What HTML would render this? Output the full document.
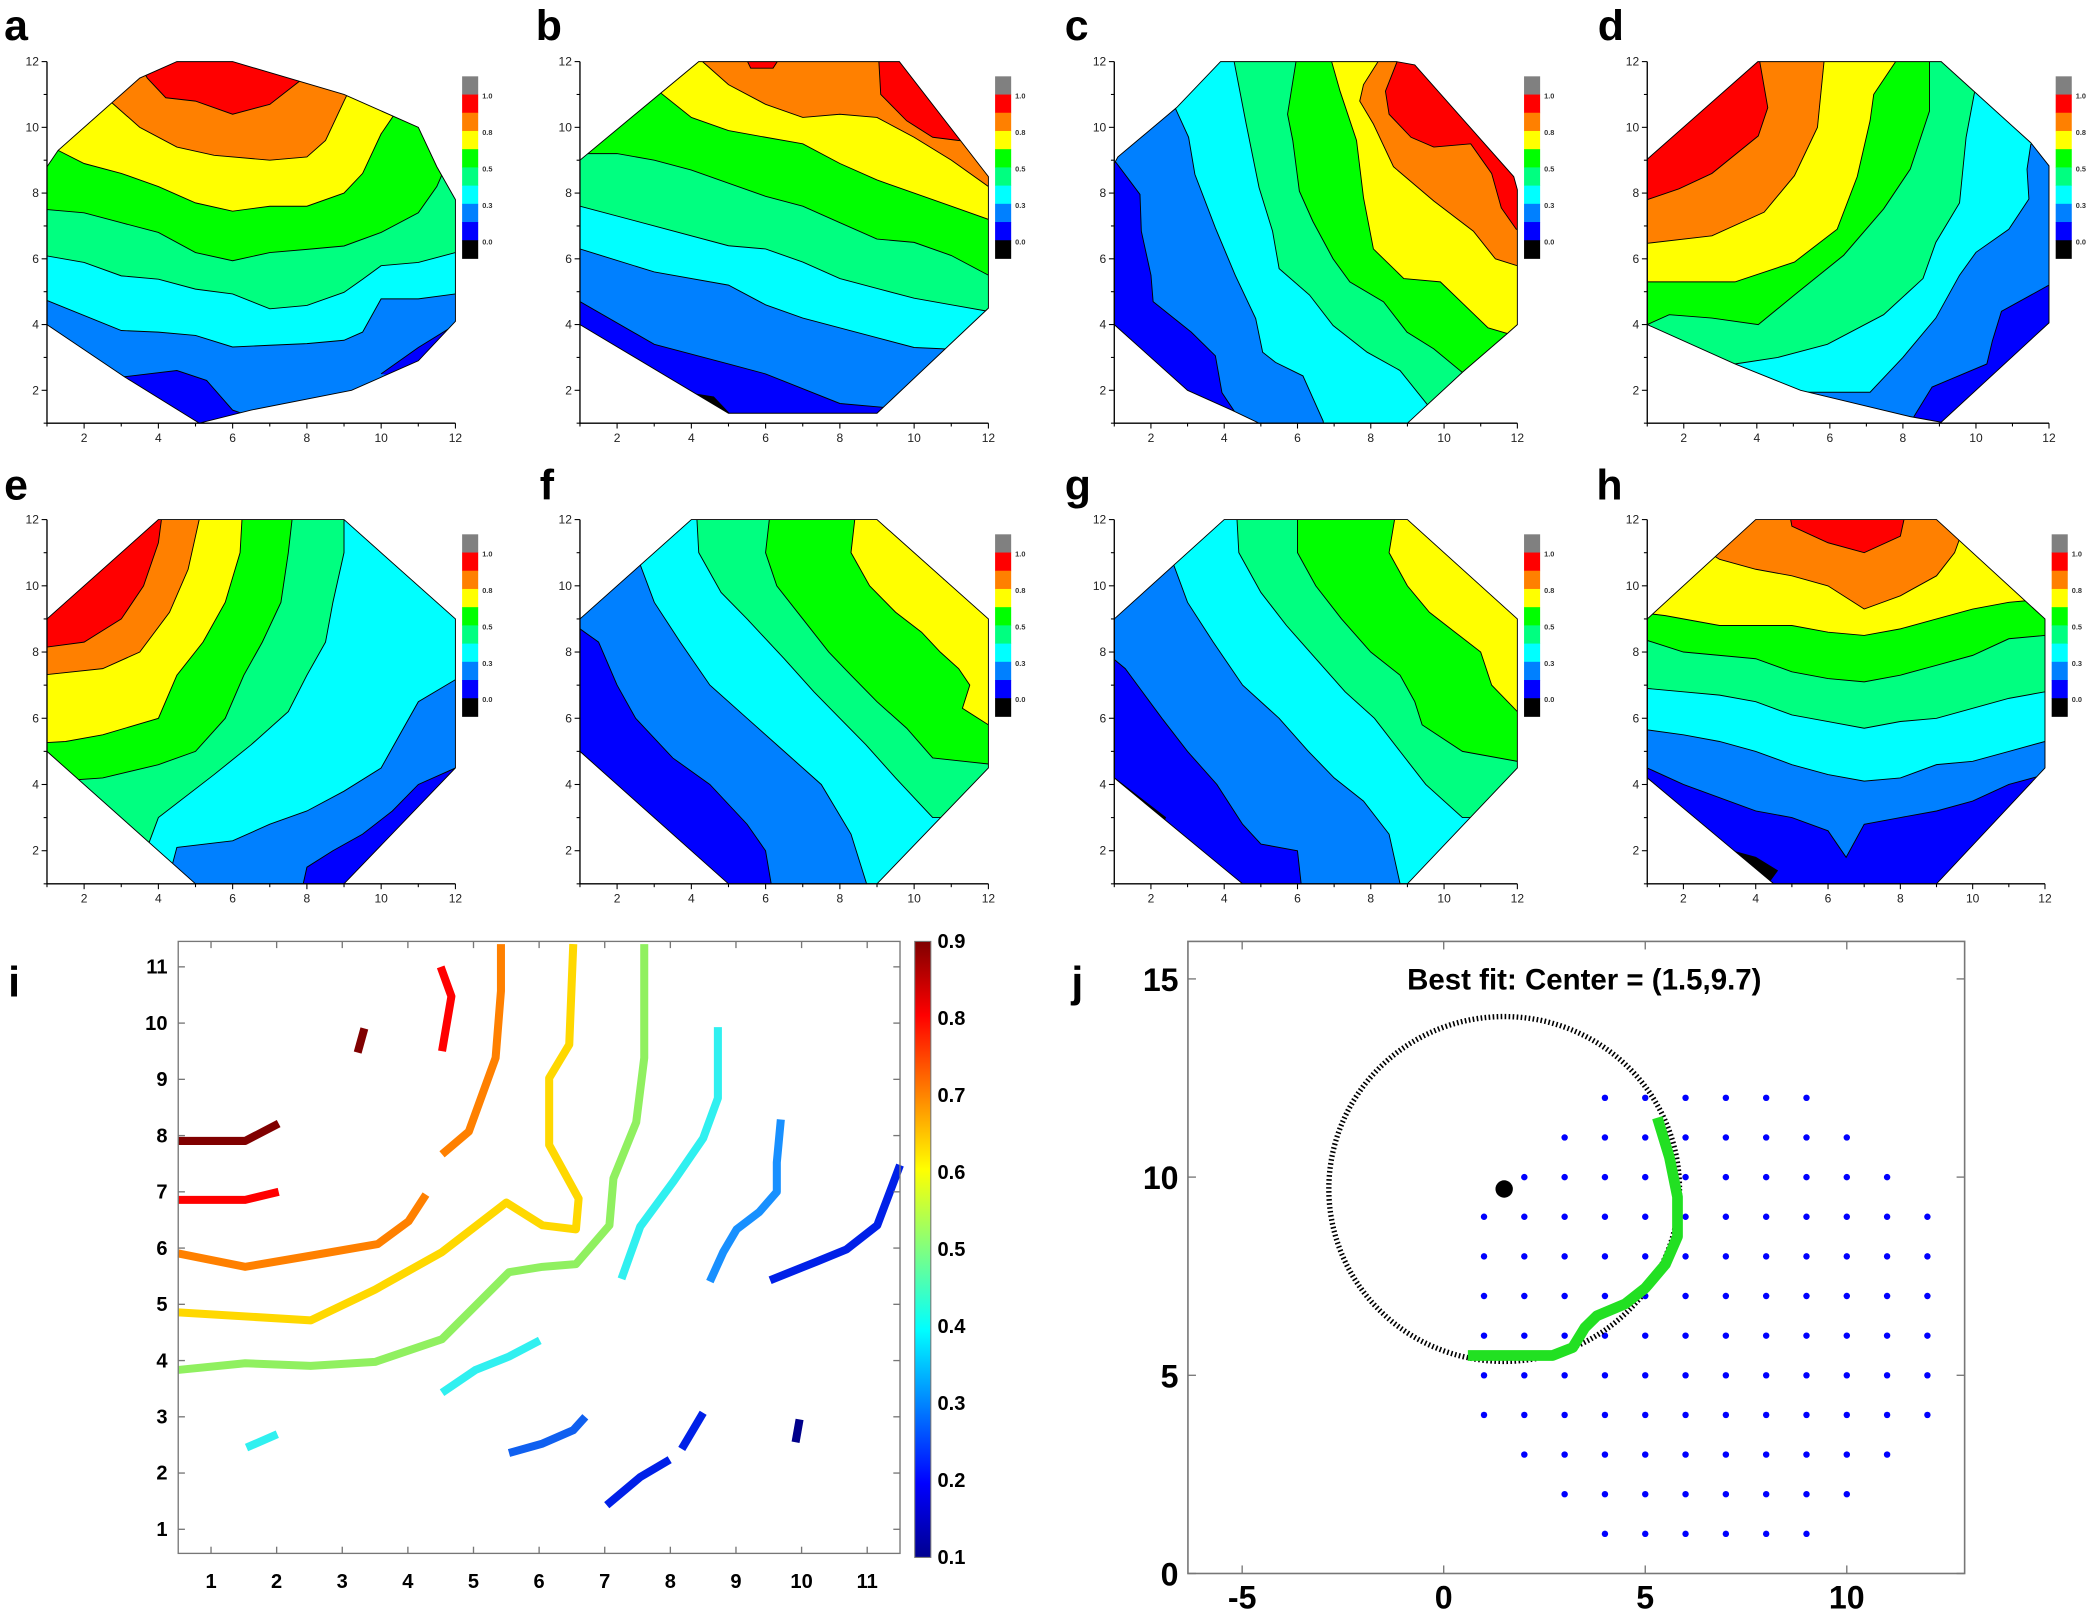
<!DOCTYPE html>
<html><head><meta charset="utf-8"><style>
html,body{margin:0;padding:0;background:#fff;}
svg{display:block;font-family:"Liberation Sans",sans-serif;}
</style></head><body>
<svg id="s" width="2100" height="1615" viewBox="0 0 1568 1206" xmlns="http://www.w3.org/2000/svg">
<rect width="1568" height="1206" fill="#fff"/>
</svg>
<script>
const S=document.getElementById('s');
let out='';
const C=['#000000','#0000ff','#0080ff','#00ffff','#00ff80','#00ff00','#ffff00','#ff8000','#ff0000','#808080'];
function poly(pts,f){return pts.map(p=>f(p[0],p[1]).map(v=>v.toFixed(1)).join(',')).join(' ');}
const G8=[[1,5],[1,9],[4,12],[9,12],[12,9],[12,4.5],[9,1],[5,1]];
const panels=[
{L:'a',x0:35,x1:340,y0:316,y1:46,lx:3,ly:30,
 oct:[[1,4],[1,8.8],[1.3,9.3],[3.5,11.5],[4.5,12],[6,12],[9,11],[11,10],[11.5,8.8],[12,7.8],[12,4.1],[11,2.9],[9.2,2],[6.5,1.4],[5.1,1],[3.1,2.4]],
 base:2,close:[[14,14],[-1,14]],
 items:[
 [1,[[3,2.4],[4.5,2.6],[5.3,2.3],[6,1.4],[6.5,1.2],[5,0.5],[2.5,2.3]],1],
 [1,[[10,2.5],[11,3.3],[12,4],[12.5,4],[11,2.3]],1],
 [3,[[0,4.73],[1,4.73],[3,3.82],[4,3.77],[5,3.67],[6,3.32],[7,3.37],[8,3.42],[9,3.52],[9.5,3.77],[10,4.78],[11,4.78],[12,4.93],[13,4.93]]],
 [4,[[0,6.09],[1,6.09],[2,5.89],[3,5.48],[4,5.38],[5,5.08],[6,4.93],[7,4.48],[8,4.58],[9,4.98],[9.5,5.38],[10,5.79],[11,5.89],[12,6.19],[13,6.19]]],
 [5,[[0,7.5],[1,7.5],[2,7.4],[3,7.1],[4,6.8],[5,6.19],[6,5.94],[7,6.19],[8,6.29],[9,6.39],[10,6.8],[11,7.4],[11.5,8.2],[12,9.5],[12.5,10]]],
 [6,[[0.5,9.6],[1.3,9.3],[2,8.9],[3,8.6],[4,8.2],[5,7.7],[6,7.45],[7,7.6],[8,7.6],[9,8.0],[9.5,8.6],[10,9.8],[10.3,10.3],[10.6,11]]],
 [7,[[2.2,11.3],[2.7,10.8],[3.5,10.0],[4.5,9.4],[5.5,9.15],[7,9.0],[8,9.1],[8.5,9.6],[9,10.8],[9.3,11.5]]],
 [8,[[3.3,12.3],[3.7,11.5],[4.2,10.9],[5,10.8],[6,10.4],[7,10.7],[7.8,11.4],[8.2,12]]]
 ]},
{L:'b',x0:433,x1:738,y0:316,y1:46,lx:400,ly:30,
 oct:[[1,4],[1,9],[4.2,12],[9.6,12],[12,8.5],[12,4.5],[9,1.3],[5,1.3]],
 base:1,close:[[14,14],[-1,14]],
 items:[
 [0,[[3.5,2.0],[4.6,1.8],[5.1,1.2],[4.5,0.8],[3,1.8]],1],
 [2,[[0,4.7],[1,4.7],[3,3.4],[5,2.8],[6,2.5],[8,1.6],[10,1.4],[13,1.4]]],
 [3,[[0,6.3],[1,6.3],[3,5.6],[5,5.2],[6,4.6],[7,4.2],[9,3.6],[10,3.3],[12,3.2],[13,3.2]]],
 [4,[[0,7.6],[1,7.6],[3,7.0],[5,6.4],[6,6.3],[7,5.9],[8,5.4],[9,5.1],[10,4.8],[11,4.6],[12,4.4],[13,4.4]]],
 [5,[[0,9.2],[2,9.2],[3,9],[4,8.7],[5,8.3],[6,7.9],[7,7.6],[8,7.1],[9,6.6],[10,6.5],[11,6.1],[12,5.5],[13,5.5]]],
 [6,[[2.5,12],[3,11.2],[4,10.3],[5,9.9],[6,9.7],[7,9.5],[8,8.9],[9,8.4],[10,8.0],[11,7.6],[12,7.2],[13,7.2]]],
 [7,[[4,13],[4.3,12],[5,11.3],[6,10.7],[7,10.3],[8,10.4],[9,10.3],[10,9.7],[11,9.0],[12,8.2],[13,8.2]]],
 [8,[[9,13],[9.1,11],[9.8,10.2],[10.5,9.7],[11.2,9.6],[13,9.5]]],
 [8,[[5.3,12.5],[5.6,11.8],[6.2,11.8],[6.6,12.5]],1]
 ]},
{L:'c',x0:832,x1:1133,y0:316,y1:46,lx:795,ly:30,
 oct:[[1,4],[1,8.9],[1.1,9.1],[2.7,10.6],[3.9,12],[8.7,12],[9.2,11.9],[11.9,8.5],[12,8.1],[12,4],[11.7,3.7],[10.5,2.55],[9,1],[4.95,1],[4.2,1.4],[3,2]],
 base:1,close:[[14,-1],[14,14],[-1,14]],
 items:[
 [2,[[0,9.5],[1.05,8.93],[1.7,7.96],[1.74,6.84],[2.0,5.5],[2.06,4.7],[3.1,3.77],[3.76,3.05],[3.94,1.93],[4.27,1.37],[4.5,0]]],
 [3,[[2.2,11.5],[2.66,10.6],[3.03,9.7],[3.2,8.57],[3.76,6.94],[4.3,5.5],[4.86,4.18],[5.05,3.16],[5.4,2.85],[6.15,2.44],[6.7,1.06],[6.8,0]]],
 [4,[[4.25,13],[4.27,12],[4.6,10.1],[4.95,8.17],[5.32,6.84],[5.5,5.7],[6.33,4.9],[6.97,3.97],[7.9,3.16],[8.8,2.6],[9.54,1.57],[10,0]]],
 [5,[[6,13],[5.96,12],[5.73,10.4],[5.87,9.6],[6.05,8.06],[6.42,7.14],[6.97,6.0],[7.43,5.3],[8.35,4.69],[8.99,3.77],[9.72,3.26],[10.5,2.54],[11.5,1]]],
 [6,[[7,13],[6.93,12],[7.16,11.1],[7.61,9.6],[7.8,7.86],[8.07,6.3],[8.9,5.4],[9.9,5.3],[10.55,4.6],[11.2,3.9],[11.74,3.72],[12.5,3]]],
 [7,[[8.3,13],[8.2,12],[7.8,11.3],[7.7,10.8],[8.07,10.1],[8.62,8.8],[9.72,7.76],[10.8,6.84],[11.4,6.0],[11.97,5.8],[13,5.8]]],
 [8,[[8.8,13],[8.72,12],[8.4,11.1],[8.5,10.4],[9.1,9.7],[9.72,9.4],[10.73,9.5],[11.3,8.6],[11.56,7.55],[11.97,6.9],[13,6.9]]]
 ]},
{L:'d',x0:1230,x1:1530,y0:316,y1:46,lx:1193,ly:30,
 oct:[[1,4],[1,9.03],[4.03,12],[9.05,12],[11.5,9.53],[12,8.83],[12,4.05],[9.05,1.03],[8.2,1.2],[5.2,2.0],[3.4,2.8]],
 base:1,close:[[-1,-1],[-1,14],[14,14]],
 items:[
 [2,[[13,5.2],[12,5.2],[10.7,4.4],[10.45,3.5],[10.3,2.8],[8.8,2.1],[8.3,1.2],[8.2,0]]],
 [3,[[12.5,10],[11.5,9.48],[11.4,8.73],[11.45,7.82],[10.9,6.9],[10,6.2],[9.55,5.5],[8.9,4.2],[8,3.0],[7.1,1.94],[5.3,1.94],[5,1.5],[5,0]]],
 [4,[[10.3,12.5],[9.95,11.0],[9.73,9.7],[9.55,7.7],[8.9,6.5],[8.55,5.4],[7.47,4.3],[5.93,3.4],[4.58,3.0],[3.4,2.8],[3,1.5],[3,0]]],
 [5,[[8.73,13],[8.73,12],[8.73,10.5],[8.2,8.73],[7.47,7.52],[6.38,6.11],[5.03,4.9],[4.04,4.0],[2.77,4.2],[1.6,4.3],[1,4.0],[0,3.9]]],
 [6,[[7.8,13],[7.8,12],[7.2,11.0],[7.1,10.2],[6.75,8.5],[6.2,6.9],[5.03,5.9],[3.4,5.3],[1,5.3],[0,5.3]]],
 [7,[[5.84,13],[5.84,12],[5.66,10.0],[5.03,8.53],[4.2,7.42],[2.77,6.7],[1,6.47],[0,6.45]]],
 [8,[[4.1,13],[4.08,12],[4.3,10.6],[4.04,9.74],[2.77,8.6],[1.87,8.13],[1,7.8],[0,7.8]]]
 ]},
{L:'e',x0:35,x1:340,y0:660,y1:388,lx:3,ly:373,
 oct:G8,base:1,close:[[-1,-1],[-1,14],[14,14]],
 items:[
 [2,[[13,4.5],[12,4.5],[11,4],[10.3,3.2],[9.5,2.5],[8.7,2],[8,1.5],[7.7,0]]],
 [3,[[12.5,7.5],[11,6.5],[10.5,5.5],[10,4.5],[9,3.8],[8,3.2],[7,2.8],[6,2.3],[4.5,2.1],[4,0]]],
 [4,[[9,13],[9,11],[8.7,9.5],[8.5,8.3],[8,7.3],[7.5,6.2],[6.5,5.2],[5.5,4.3],[4,3],[3,0]]],
 [5,[[7.7,13],[7.5,11],[7.3,9.5],[6.8,8.3],[6.3,7.3],[5.8,6],[5,5],[4,4.6],[2.5,4.2],[0,4]]],
 [6,[[6.3,13],[6.2,11],[5.8,9.5],[5.2,8.3],[4.5,7.3],[4,6],[2.5,5.5],[1.5,5.3],[0,5.2]]],
 [7,[[5.3,13],[5,11.5],[4.8,10.5],[4.3,9.2],[3.5,8],[2.5,7.5],[0,7.2]]],
 [8,[[4.2,13],[4,11.3],[3.6,10],[3,9],[2,8.3],[0,8]]]
 ]},
{L:'f',x0:433,x1:738,y0:660,y1:388,lx:403,ly:373,
 oct:G8,base:1,close:[[14,-1],[14,14],[-1,14]],
 items:[
 [2,[[0,9.5],[1.5,8.3],[2,7],[2.5,6],[3.5,4.8],[4.5,4],[5.5,2.8],[6,2],[6.3,0]]],
 [3,[[2,13],[2.5,11],[3,9.5],[3.7,8.3],[4.5,7],[5.5,6],[6.5,5],[7.5,4],[8.3,2.5],[9,0]]],
 [4,[[4.1,13],[4.2,11],[4.8,9.8],[5.5,9],[6.5,7.8],[7.3,6.8],[8,6],[8.7,5.2],[9.5,4.2],[10.5,3],[13,3]]],
 [5,[[6.2,13],[6,11],[6.3,10],[7,9],[7.7,8],[8.3,7.3],[9,6.5],[9.8,5.7],[10.5,4.8],[13,4.5]]],
 [6,[[8.5,13],[8.3,11],[8.8,10],[9.5,9.2],[10.2,8.6],[10.7,8],[11.2,7.5],[11.5,7],[11.3,6.3],[12,5.8],[13,5.5]]],
 [7,[[10,13],[10,12.5],[10.3,11],[10.8,10.2],[11.5,9.7],[13,9.3]]],
 [8,[[11,13],[11,11.5],[11.3,10.7],[12,10],[13,9.8]]]
 ]},
{L:'g',x0:832,x1:1133,y0:660,y1:388,lx:795,ly:373,
 oct:[[1,4.2],[1,9],[4,12],[9,12],[12,9],[12,4.5],[9,1],[4.5,1]],base:1,close:[[14,-1],[14,14],[-1,14]],
 items:[
 [0,[[1,4.2],[2.4,3.0],[2.3,2.8],[0.5,4]],1],
 [2,[[0,8.7],[1.3,7.5],[2.3,6],[3,5],[3.8,4],[4.5,2.8],[5,2.2],[6,2],[6.2,0]]],
 [3,[[2.3,13],[2.5,11],[3,9.5],[3.7,8.3],[4.5,7],[5.5,6],[6.3,5],[7,4.2],[7.8,3.5],[8.5,2.5],[9,0]]],
 [4,[[4.3,13],[4.4,11],[5,9.8],[5.7,8.8],[6.5,7.8],[7.3,6.8],[8.1,6],[8.8,5],[9.5,4],[10.5,3],[13,3]]],
 [5,[[6,13],[6,11],[6.5,10],[7.2,9],[8,8],[8.8,7.3],[9.2,6.5],[9.4,5.8],[10.5,5],[13,4.5]]],
 [6,[[8.8,13],[8.5,11],[9,10],[9.6,9.2],[10.3,8.6],[11,8],[11.3,7],[12,6.2],[13,6]]],
 [7,[[10.2,13],[10.2,12.5],[10.5,11],[11,10.2],[11.6,9.6],[13,9.2]]],
 [8,[[11,13],[11,11.3],[11.4,10.6],[12,10],[13,9.8]]]
 ]},
{L:'h',x0:1230,x1:1527,y0:660,y1:388,lx:1192,ly:373,
 oct:[[1,4.2],[1,9],[4,12],[9,12],[12,9],[12,4.5],[9,1],[4.5,1]],base:1,close:[[14,14],[-1,14]],
 items:[
 [0,[[3,2.1],[4,1.8],[4.6,1.4],[4.4,1.1],[2.8,2.0]],1],
 [2,[[0,4.5],[1,4.5],[2,4],[3,3.6],[4,3.2],[5,3],[6,2.6],[6.5,1.8],[7,2.8],[8,3],[9,3.2],[10,3.5],[11,4],[12,4.3],[13,4.3]]],
 [3,[[0,5.8],[2,5.5],[3,5.3],[4,5],[5,4.6],[6,4.3],[7,4.1],[8,4.2],[9,4.6],[10,4.7],[11,5],[12,5.3],[13,5.3]]],
 [4,[[0,7],[2,6.8],[3,6.7],[4,6.5],[5,6.1],[6,5.9],[7,5.7],[8,5.9],[9,6],[10,6.3],[11,6.6],[12,6.8],[13,6.8]]],
 [5,[[0,8.7],[2,8],[3,7.9],[4,7.8],[5,7.4],[6,7.2],[7,7.1],[8,7.3],[9,7.6],[10,7.9],[11,8.4],[12,8.5],[13,8.5]]],
 [6,[[0,9.3],[1.5,9.1],[3,8.8],[4,8.8],[5,8.8],[6,8.6],[7,8.5],[8,8.7],[9,9],[10,9.3],[11,9.5],[12,9.6],[13,9.6]]],
 [7,[[1.5,12],[2,11.5],[3,10.8],[4,10.5],[5,10.3],[6,10],[7,9.3],[8,9.7],[9,10.3],[9.5,11],[10,12.5]]],
 [8,[[4.8,13],[5,11.8],[6,11.3],[7,11],[8,11.5],[8.3,13]]]
 ]}
];
panels.forEach((p,pi)=>{
 const sx=(p.x1-p.x0)/11, sy=(p.y0-p.y1)/11;
 const f=(x,y)=>[p.x0+(x-1)*sx,p.y0-(y-1)*sy];
 const id='clp'+pi;
 out+=`<clipPath id="${id}"><polygon points="${poly(p.oct,f)}"/></clipPath>`;
 out+=`<g clip-path="url(#${id})"><polygon points="${poly(p.oct,f)}" fill="${C[p.base]}"/>`;
 p.items.forEach(it=>{
  const pts=it[2]?it[1]:it[1].concat(p.close);
  out+=`<polygon points="${poly(pts,f)}" fill="${C[it[0]]}"/>`;
  out+=`<polyline points="${poly(it[1],f)}" fill="none" stroke="#000" stroke-width="0.7"/>`;
 });
 out+=`</g><polygon points="${poly(p.oct,f)}" fill="none" stroke="#000" stroke-width="0.7"/>`;
 out+=`<path d="M${p.x0},${p.y1} V${p.y0} H${p.x1}" stroke="#000" stroke-width="1" fill="none"/>`;
 for(let v=1;v<=12;v++){
  const [X]=f(v,1),[,Y]=f(1,v);
  const L=v%2==0?4:2.5;
  out+=`<line x1="${X}" y1="${p.y0}" x2="${X}" y2="${p.y0+L}" stroke="#000" stroke-width="0.8"/>`;
  out+=`<line x1="${p.x0}" y1="${Y}" x2="${p.x0-L}" y2="${Y}" stroke="#000" stroke-width="0.8"/>`;
  if(v%2==0){
   out+=`<text x="${X}" y="${p.y0+14}" font-size="9" text-anchor="middle" fill="#222">${v}</text>`;
   out+=`<text x="${p.x0-6}" y="${Y+3}" font-size="9" text-anchor="end" fill="#222">${v}</text>`;
  }
 }
 const cx=p.x1+5, ct=p.y1+11, bh=13.6;
 for(let k=0;k<10;k++){out+=`<rect x="${cx}" y="${ct+k*bh}" width="12" height="${bh+0.3}" fill="${C[9-k]}"/>`;}
 [['1.0',1],['0.8',3],['0.5',5],['0.3',7],['0.0',9]].forEach(a=>{
  out+=`<text x="${cx+15}" y="${ct+a[1]*bh+3}" font-size="5.5" font-weight="bold" fill="#333">${a[0]}</text>`;});
 out+=`<text x="${p.lx}" y="${p.ly}" font-size="32" font-weight="bold" fill="#000">${p.L}</text>`;
});

(function(){
 const x0=133,x1=672,y0=1160,y1=703;
 out+=`<defs><linearGradient id="jet" x1="0" y1="1" x2="0" y2="0">
 <stop offset="0" stop-color="#00008f"/><stop offset="0.12" stop-color="#0000ff"/><stop offset="0.37" stop-color="#00ffff"/>
 <stop offset="0.5" stop-color="#80ff80"/><stop offset="0.63" stop-color="#ffff00"/><stop offset="0.88" stop-color="#ff0000"/><stop offset="1" stop-color="#800000"/></linearGradient></defs>`;
 const L=[
 ['#800000',[[133,852],[183,852],[208,839]]],['#800000',[[267,786],[272,768]]],
 ['#ff0000',[[133,896],[183,896],[208,890]]],['#ff0000',[[329,722],[337,744],[330,785]]],
 ['#ff8000',[[133,936],[183,946],[230,938],[282,929],[305,912],[318,892]]],
 ['#ff8000',[[330,862],[350,845],[370,790],[374,740],[374,705]]],
 ['#ffd800',[[133,980],[232,986],[280,963],[330,935],[378,898],[405,915],[430,918],[432,895],[410,855],[410,805],[425,780],[428,705]]],
 ['#90f060',[[133,1023],[183,1018],[232,1020],[280,1017],[330,1000],[355,975],[380,950],[405,946],[430,944],[455,915],[458,880],[475,838],[481,790],[481,705]]],
 ['#30f0f0',[[184,1081],[207,1071]]],['#30f0f0',[[330,1040],[355,1023],[380,1013],[403,1001]]],
 ['#30f0f0',[[464,955],[478,916],[503,882],[525,850],[536,820],[536,767]]],
 ['#1890ff',[[583,836],[580,868],[580,890],[567,905],[550,918],[540,935],[530,957]]],
 ['#1060f0',[[380,1085],[405,1078],[428,1068],[437,1058]]],
 ['#0020e8',[[575,956],[610,942],[632,933],[655,915],[672,870]]],
 ['#0020e8',[[453,1124],[478,1103],[500,1090]]],['#0020e8',[[509,1082],[525,1055]]],
 ['#00008b',[[594,1077],[597,1060]]]
 ];
 L.forEach(l=>{out+=`<polyline points="${l[1].map(p=>p.join(',')).join(' ')}" fill="none" stroke="${l[0]}" stroke-width="6" stroke-linejoin="round"/>`;});
 out+=`<rect x="${x0}" y="${y1}" width="${x1-x0}" height="${y0-y1}" fill="none" stroke="#777" stroke-width="1"/>`;
 for(let v=1;v<=11;v++){
  const X=x0+(v-0.5)*49.0, Y=1142-(v-1)*42;
  out+=`<line x1="${X}" y1="${y0}" x2="${X}" y2="${y0-5}" stroke="#777"/><line x1="${X}" y1="${y1}" x2="${X}" y2="${y1+5}" stroke="#777"/>`;
  out+=`<line x1="${x0}" y1="${Y}" x2="${x0+5}" y2="${Y}" stroke="#777"/><line x1="${x1}" y1="${Y}" x2="${x1-5}" y2="${Y}" stroke="#777"/>`;
  out+=`<text x="${X}" y="1186" font-size="15" font-weight="bold" text-anchor="middle">${v}</text>`;
  out+=`<text x="${x0-8}" y="${Y+5}" font-size="15" font-weight="bold" text-anchor="end">${v}</text>`;
 }
 out+=`<rect x="683" y="703" width="12" height="460" fill="url(#jet)" stroke="#777" stroke-width="0.8"/>`;
 for(let k=0;k<9;k++){const Y=703+k*57.5;const v=(0.9-k*0.1).toFixed(1);
  out+=`<text x="700" y="${Y+5}" font-size="15" font-weight="bold">${v}</text>`;}
 out+=`<text x="6" y="744" font-size="32" font-weight="bold">i</text>`;
})();

(function(){
 const X=x=>1078+30.1*x, Y=y=>1175-29.6*y;
 out+=`<rect x="887" y="703" width="580" height="472" fill="none" stroke="#777" stroke-width="1.2"/>`;
 [-5,0,5,10].forEach(v=>{out+=`<line x1="${X(v)}" y1="1175" x2="${X(v)}" y2="1169" stroke="#777"/><line x1="${X(v)}" y1="703" x2="${X(v)}" y2="709" stroke="#777"/>`;
  out+=`<text x="${X(v)}" y="1201" font-size="24" font-weight="bold" text-anchor="middle">${v}</text>`;});
 [0,5,10,15].forEach(v=>{out+=`<line x1="887" y1="${Y(v)}" x2="893" y2="${Y(v)}" stroke="#777"/><line x1="1467" y1="${Y(v)}" x2="1461" y2="${Y(v)}" stroke="#777"/>`;
  out+=`<text x="880" y="${Y(v)+9}" font-size="24" font-weight="bold" text-anchor="end">${v}</text>`;});
 out+=`<text x="1183" y="739" font-size="22" font-weight="bold" text-anchor="middle">Best fit: Center = (1.5,9.7)</text>`;
 const rows={12:[4,9],11:[3,10],10:[2,11],9:[1,12],8:[1,12],7:[1,12],6:[1,12],5:[1,12],4:[1,12],3:[2,11],2:[3,10],1:[4,9]};
 for(const y in rows){for(let x=rows[y][0];x<=rows[y][1];x++)out+=`<circle cx="${X(x)}" cy="${Y(+y)}" r="2.4" fill="#0000ff"/>`;}
 out+=`<ellipse cx="${X(1.5)}" cy="${Y(9.7)}" rx="${4.35*30.1}" ry="${4.35*29.6}" fill="none" stroke="#000" stroke-width="4" stroke-dasharray="1.2 1.8"/>`;
 out+=`<circle cx="${X(1.5)}" cy="${Y(9.7)}" r="6.5" fill="#000"/>`;
 const g=[[5.3,11.5],[5.6,10.5],[5.8,9.5],[5.8,8.5],[5.5,7.8],[5,7.2],[4.5,6.8],[3.8,6.5],[3.5,6.2],[3.2,5.7],[2.7,5.5],[0.6,5.5]];
 out+=`<polyline points="${g.map(p=>X(p[0])+','+Y(p[1])).join(' ')}" fill="none" stroke="#22e022" stroke-width="8" stroke-linejoin="round"/>`;
 out+=`<text x="800" y="744" font-size="32" font-weight="bold">j</text>`;
})();
S.insertAdjacentHTML('beforeend',out);
</script>
</body></html>
